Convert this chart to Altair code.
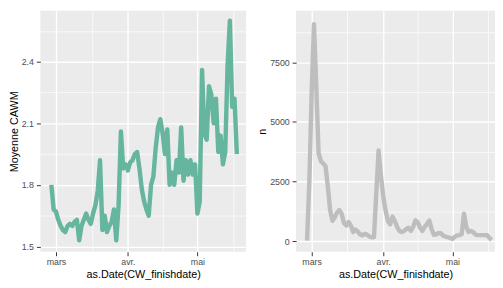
import altair as alt
import pandas as pd

# ---- data ----
start_date = "2021-02-27"  # first as.Date(CW_finishdate)
cawm_mean = [
    1.80, 1.68, 1.67, 1.63, 1.60, 1.58, 1.57, 1.60, 1.61, 1.60,
    1.62, 1.63, 1.53, 1.60, 1.63, 1.66, 1.63, 1.61, 1.66, 1.70,
    1.77, 1.92, 1.58, 1.65, 1.57, 1.60, 1.62, 1.68, 1.53, 1.70,
    2.06, 1.88, 1.90, 1.87, 1.91, 1.92, 1.95, 1.96, 1.88, 1.78,
    1.72, 1.68, 1.65, 1.80, 1.84, 1.98, 2.08, 2.12, 2.05, 1.95,
    2.07, 1.80, 1.86, 1.80, 1.92, 1.86, 2.08, 1.82, 1.92, 1.85,
    1.92, 1.85, 1.90, 1.66, 1.72, 2.36, 2.05, 2.02, 2.28, 2.24,
    2.10, 2.22, 1.96, 2.04, 1.90, 1.96, 2.38, 2.60, 2.18, 2.22,
    1.95,
]
n_count = [
    20, 2500, 6200, 9100, 6500, 3700, 3350, 3250, 3150, 2300,
    1300, 850, 1000, 1200, 1300, 1150, 750, 650, 800, 650,
    380, 480, 400, 280, 240, 300, 270, 190, 160, 170,
    2000, 3800, 2750, 1900, 1300, 850, 700, 1030, 850, 600,
    420, 380, 420, 500, 560, 430, 600, 870, 780, 550,
    430, 600, 720, 860, 490, 260, 280, 340, 330, 230,
    190, 160, 130, 90, 180, 240, 250, 290, 1150, 600,
    380, 420, 380, 270, 250, 250, 250, 250, 250, 130,
    40,
]
month_labels = ["janv.", "févr.", "mars", "avr.", "mai", "juin"]
x_title = "as.Date(CW_finishdate)"
left_title = "Moyenne CAWM"
right_title = "n"
left_major = [1.5, 1.8, 2.1, 2.4]
left_minor = [1.65, 1.95, 2.25, 2.55]
right_major = [0, 2500, 5000, 7500]
right_minor = [1250, 3750, 6250, 8750]

dates = pd.date_range(start_date, periods=len(cawm_mean), freq="D")
df = pd.DataFrame({"date": dates.strftime("%Y-%m-%d"), "cawm": cawm_mean, "n": n_count})


def dt(m, d, h=0, mi=0):
    return alt.DateTime(year=2021, month=m, date=d, hours=h, minutes=mi, utc=True)


x_ticks = [dt(3, 1), dt(3, 16, 12), dt(4, 1), dt(4, 16), dt(5, 1), dt(5, 16, 12)]
x_major_test = "utcdate(datum.value) == 1 && utchours(datum.value) == 0"
x_label_expr = ("(" + x_major_test + ") ? ["
                + ",".join("'%s'" % m for m in month_labels)
                + "][utcmonth(datum.value)] : ''")

MAJOR_W = 1.4
MINOR_W = 0.7
H = 246


def cond(test, a, b):
    return {"condition": {"test": test, "value": a}, "value": b}


def panel(field, color, y_title, y_domain, majors, minors, fmt, width, x_domain):
    ylist = "[" + ",".join(repr(v) for v in majors) + "]"
    y_test = "indexof(%s, datum.value) >= 0" % ylist
    xscale = alt.Scale(type="utc", domain=x_domain, nice=False)
    yscale = alt.Scale(domain=y_domain, nice=False, zero=False)
    return alt.Chart(df).mark_line(
        color=color, strokeWidth=4.5, strokeCap="butt", strokeJoin="round"
    ).encode(
        x=alt.X("date:T", scale=xscale,
                axis=alt.Axis(values=x_ticks, labelExpr=x_label_expr, title=x_title,
                              grid=True, gridColor="white",
                              gridWidth=cond(x_major_test, MAJOR_W, MINOR_W),
                              tickOpacity=cond(x_major_test, 1, 0))),
        y=alt.Y(field + ":Q", scale=yscale,
                axis=alt.Axis(values=sorted(majors + minors),
                              labelExpr="(%s) ? format(datum.value, '%s') : ''" % (y_test, fmt),
                              title=y_title, grid=True, gridColor="white",
                              gridWidth=cond(y_test, MAJOR_W, MINOR_W),
                              tickOpacity=cond(y_test, 1, 0))),
    ).properties(width=width, height=H)


left = panel("cawm", "#66B59E", left_title, [1.474, 2.648], left_major, left_minor, ".1f",
             210, [dt(2, 22, 6), dt(5, 22)])
right = panel("n", "#BEBEBE", right_title, [-450, 9660], right_major, right_minor, "d",
              203, [dt(2, 22, 6), dt(5, 19, 10, 48)])

chart = alt.hconcat(left, right, spacing=10).properties(padding=0).configure_view(
    fill="#EBEBEB", stroke=None
).configure_axis(
    labelFont="Liberation Sans", labelFontSize=9, labelColor="#4D4D4D",
    tickColor="#333333", tickSize=4, tickWidth=1, labelPadding=2,
    domain=False,
    titleFont="Liberation Sans", titleFontSize=11, titleFontWeight="normal",
    titleColor="black", titlePadding=2,
).configure_axisLeft(labelPadding=3)

chart.save("out.html", embed_options={"renderer": "svg", "actions": False})
